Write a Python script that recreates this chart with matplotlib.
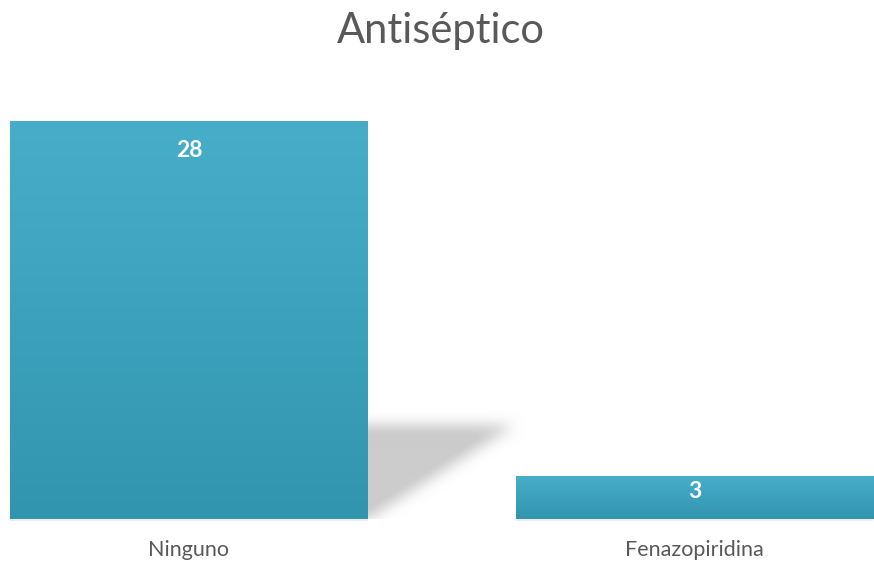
import numpy as np
import matplotlib.pyplot as plt
from matplotlib.colors import LinearSegmentedColormap

# --- data ---
categories = ["Ninguno", "Fenazopiridina"]
values = [28, 3]
title = "Antiséptico"

# --- style ---
TEXT_GRAY = "#595959"
BAR_TOP = "#47AECA"
BAR_BOTTOM = "#3195AE"
BAR_WIDTH = 0.708
FONT = ["Lato", "DejaVu Sans"]

plt.rcParams["font.family"] = FONT

fig = plt.figure(figsize=(8.74, 5.63), dpi=100)
ax = fig.add_axes([0.0, 1 - 519 / 563, 1.0, (519 - 121) / 563])

x = np.arange(len(categories))
xlim = (-189 / 505.5, (874 - 189) / 505.5)
ylim = (0, max(values))

grad = LinearSegmentedColormap.from_list("bar", [BAR_BOTTOM, BAR_TOP])
ramp = np.linspace(0, 1, 256).reshape(-1, 1)


def blur(img, r):
    # separable box blur, repeated to get something close to gaussian
    k = np.ones(2 * r + 1) / (2 * r + 1)
    for _ in range(3):
        img = np.apply_along_axis(lambda v: np.convolve(v, k, mode="same"), 0, img)
        img = np.apply_along_axis(lambda v: np.convolve(v, k, mode="same"), 1, img)
    return img


# soft perspective shadow cast from the tallest bar
i_max = int(np.argmax(values))
x0 = x[i_max] + BAR_WIDTH / 2
sh_w = 0.29
sh_h = values[i_max] * 0.236
nx, ny = 220, 150
pad = 40
xs = np.linspace(0, 1, nx)
ys = np.linspace(0, 1, ny)
XX, YY = np.meshgrid(xs, ys)
mask = np.zeros((ny + 2 * pad, nx + 2 * pad))
mask[pad:pad + ny, pad:pad + nx] = (XX <= YY).astype(float)
# extend under the bar so the left edge stays solid
mask[pad:pad + ny, :pad] = 1.0
mask = blur(mask, 10)
mask[:pad, :] = 0  # nothing below the baseline
dx = sh_w / nx * pad
dy = sh_h / ny * pad
shadow = np.zeros(mask.shape + (4,))
shadow[..., :3] = 0.8
shadow[..., 3] = np.clip(mask * 1.1, 0, 1)
ax.imshow(shadow, origin="lower", aspect="auto", zorder=1,
          extent=[x0 - dx, x0 + sh_w + dx, -dy, sh_h + dy], interpolation="bilinear")

# gradient-filled bars with faint reflection line underneath
for xi, v in zip(x, values):
    ax.imshow(ramp, cmap=grad, origin="lower", aspect="auto", zorder=2,
              extent=[xi - BAR_WIDTH / 2, xi + BAR_WIDTH / 2, 0, v])
    ax.bar(xi, -0.12, width=BAR_WIDTH, bottom=0, color="#EDEDED", zorder=2, clip_on=False)
    off = min(2.1, 0.36 * v)
    ax.text(xi, v - off, str(v), ha="center", va="center",
            color="white", fontsize=16.5, fontweight="bold", zorder=3)

ax.set_xlim(*xlim)
ax.set_ylim(*ylim)
ax.axis("off")

for xi, c in zip(x, categories):
    fig.text((189 + xi * 505.5) / 874, 1 - 550 / 563, c, ha="center", va="center",
             color=TEXT_GRAY, fontsize=15.5)

fig.text(0.505, 1 - 31 / 563, title, ha="center", va="center",
         color=TEXT_GRAY, fontsize=30)

fig.savefig("out.png", dpi=100)
